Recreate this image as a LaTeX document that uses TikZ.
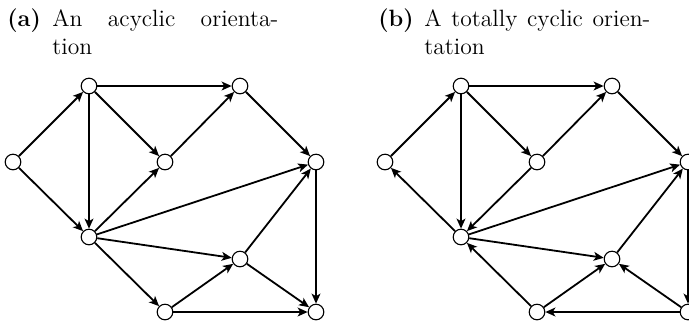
\documentclass[tikz,border=0pt]{standalone}
\usetikzlibrary{arrows.meta}
\begin{document}
\begin{tikzpicture}[x=0.5pt,y=-0.5pt,
  vtx/.style={circle,draw,line width=0.55pt,fill=white,minimum size=7.8pt,inner sep=0pt},
  edge/.style={line width=0.9pt,-{Stealth[length=5pt,width=4.4pt,inset=1.3pt]}},
  captxt/.style={inner sep=0pt,anchor=base west,font=\fontsize{11.8}{14.2}\selectfont}]
\useasboundingbox (0,0) rectangle (689,323);
% captions
\node[captxt] (capa) at (7,26) {\textbf{(a)}};
\node[captxt] (capa1) at (52,26) {\makebox[113pt][s]{An acyclic orienta-}};
\node[captxt] (capa2) at (52,54) {tion};
\node[captxt] (capb) at (378,26) {\textbf{(b)}};
\node[captxt] (capb1) at (424,26) {\makebox[113pt][s]{A totally cyclic orien-}};
\node[captxt] (capb2) at (424,54) {tation};
% graph (a)
\begin{scope}
\node[vtx] (L) at (13,162) {};
\node[vtx] (A) at (89,86) {};
\node[vtx] (B) at (165,162) {};
\node[vtx] (C) at (240,86) {};
\node[vtx] (D) at (316,162) {};
\node[vtx] (E) at (89,237) {};
\node[vtx] (F) at (240,259) {};
\node[vtx] (G) at (165,312) {};
\node[vtx] (H) at (316,312) {};
\draw[edge] (L) -- (A);
\draw[edge] (L) -- (E);
\draw[edge] (A) -- (C);
\draw[edge] (A) -- (B);
\draw[edge] (A) -- (E);
\draw[edge] (B) -- (C);
\draw[edge] (E) -- (B);
\draw[edge] (C) -- (D);
\draw[edge] (E) -- (D);
\draw[edge] (E) -- (F);
\draw[edge] (E) -- (G);
\draw[edge] (F) -- (D);
\draw[edge] (F) -- (H);
\draw[edge] (G) -- (F);
\draw[edge] (G) -- (H);
\draw[edge] (D) -- (H);
\end{scope}
% graph (b)
\begin{scope}[xshift=186pt]
\node[vtx] (L2) at (13,162) {};
\node[vtx] (A2) at (89,86) {};
\node[vtx] (B2) at (165,162) {};
\node[vtx] (C2) at (240,86) {};
\node[vtx] (D2) at (316,162) {};
\node[vtx] (E2) at (89,237) {};
\node[vtx] (F2) at (240,259) {};
\node[vtx] (G2) at (165,312) {};
\node[vtx] (H2) at (316,312) {};
\draw[edge] (L2) -- (A2);
\draw[edge] (E2) -- (L2);
\draw[edge] (A2) -- (C2);
\draw[edge] (A2) -- (B2);
\draw[edge] (A2) -- (E2);
\draw[edge] (B2) -- (C2);
\draw[edge] (B2) -- (E2);
\draw[edge] (C2) -- (D2);
\draw[edge] (E2) -- (D2);
\draw[edge] (E2) -- (F2);
\draw[edge] (G2) -- (E2);
\draw[edge] (F2) -- (D2);
\draw[edge] (H2) -- (F2);
\draw[edge] (G2) -- (F2);
\draw[edge] (H2) -- (G2);
\draw[edge] (D2) -- (H2);
\end{scope}
\end{tikzpicture}
\end{document}
